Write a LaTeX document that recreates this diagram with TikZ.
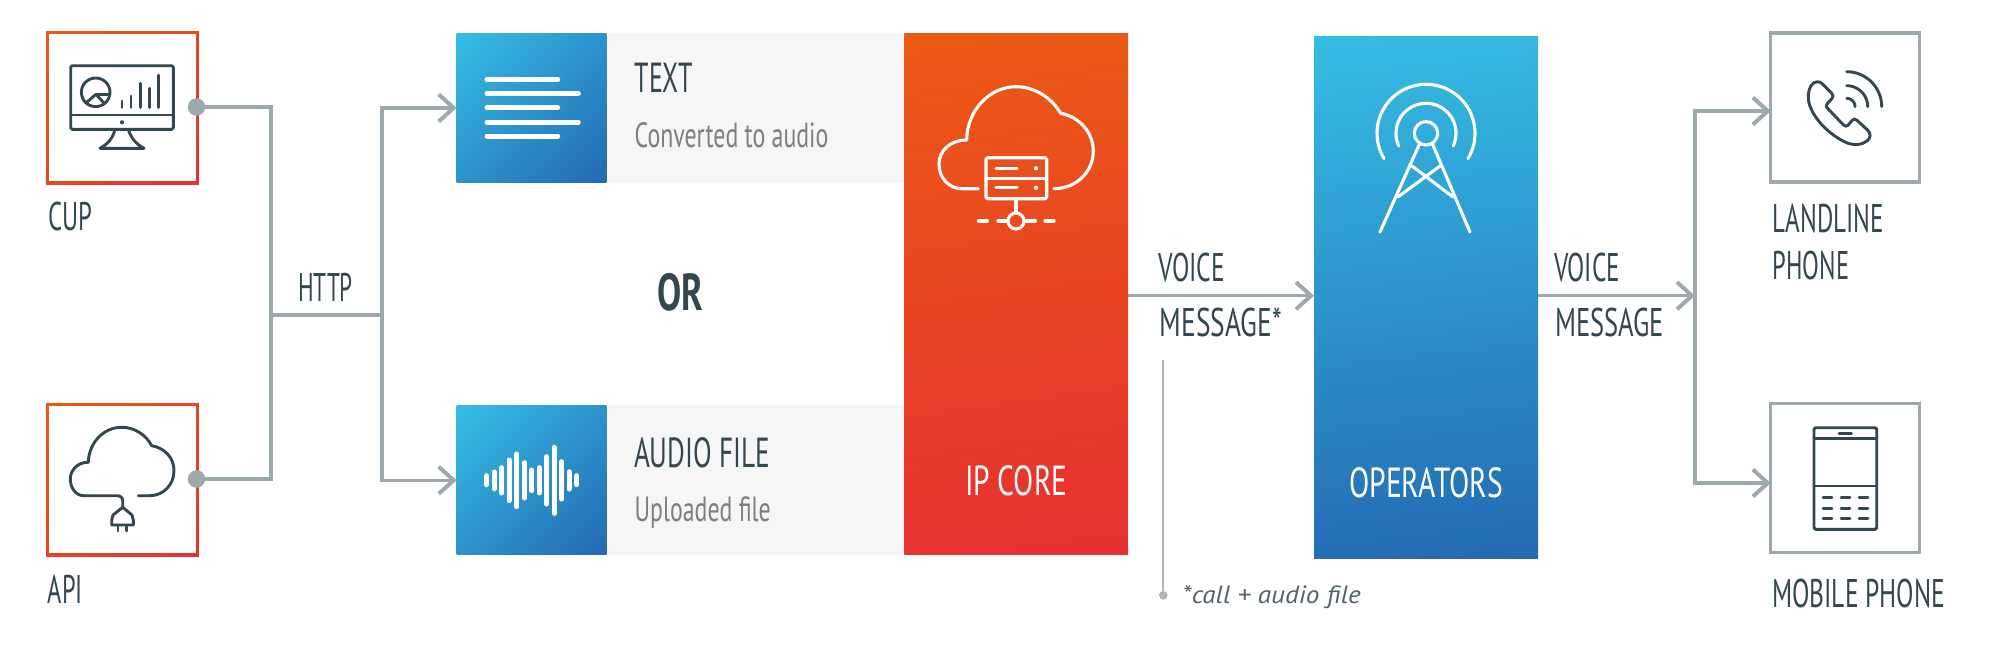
\documentclass[tikz,border=0pt]{standalone}
\usepackage{graphicx}
\usepackage{fontspec}
\usetikzlibrary{arrows.meta,calc}
\setmainfont{PT Sans}
\newcommand\fw[2]{\resizebox{#1pt}{\height}{#2}}
\definecolor{ink}{HTML}{34474F}
\definecolor{wire}{HTML}{9EA9AE}
\definecolor{wirelight}{HTML}{AEB6BA}
\definecolor{soft}{HTML}{7A7F82}
\definecolor{panel}{HTML}{F6F6F6}
\definecolor{bluetop}{HTML}{35BDE3}
\definecolor{bluebot}{HTML}{2469B3}
\definecolor{redtop}{HTML}{EB5A14}
\definecolor{redbot}{HTML}{E63032}
\pgfdeclareverticalshading{bluesq}{100bp}{color(0bp)=(bluebot); color(14.65bp)=(bluebot); color(85.35bp)=(bluetop); color(100bp)=(bluetop)}
\pgfdeclareverticalshading{bluetall}{100bp}{color(0bp)=(bluebot); color(22bp)=(bluebot); color(78bp)=(bluetop); color(100bp)=(bluetop)}
\pgfdeclareverticalshading{redtall}{100bp}{color(0bp)=(redbot); color(22bp)=(redbot); color(78bp)=(redtop); color(100bp)=(redtop)}
\pgfdeclareverticalshading{redsq}{100bp}{color(0bp)=(redbot); color(14.65bp)=(redbot); color(85.35bp)=(redtop); color(100bp)=(redtop)}
\tikzset{
  box/.style={inner sep=0pt,outer sep=0pt,minimum width=#1},
  bluesquare/.style={box=149.6pt,minimum height=149.5pt,shading=bluesq,shading angle=45},
  graypanel/.style={box=298.4pt,minimum height=149.5pt,fill=panel},
  redframe/.style={box=152.7pt,minimum height=153pt,shading=redsq,shading angle=45},
  whiteframe/.style={box=146.7pt,minimum height=147pt,fill=white},
  grayframe/.style={box=149pt,minimum height=149pt,draw=wire,line width=3.2pt},
  lab/.style={inner sep=0pt,outer sep=0pt,anchor=base west,text=ink,font=\fontsize{40}{40}\selectfont},
  labb/.style={lab,font=\fontsize{42}{42}\selectfont},
  subl/.style={lab,text=soft,font=\fontsize{35}{35}\selectfont},
  conn/.style={draw=wire,line width=3.4pt},
  arr/.style={conn,-{Straight Barb[length=15pt,width=27pt,line width=4pt]}},
  dotn/.style={circle,fill=wire,inner sep=0pt,minimum size=17.5pt},
  ic/.style={draw=ink,line width=2.9pt,line cap=round,line join=round},
  icw/.style={draw=white,line width=3.1pt,line cap=round,line join=round},
  x=1pt,y=-1pt
}
\begin{document}
\begin{tikzpicture}
\useasboundingbox[fill=white] (0,0) rectangle (1992,648);
% left frames
\node[redframe] (cup) at (122.4,107.5) {};
\node[whiteframe] at (122.4,107.5) {};
\node[redframe] (api) at (122.4,479.5) {};
\node[whiteframe] at (122.4,479.5) {};
% middle boxes
\node[graypanel] (textp) at (755.2,107.9) {};
\node[graypanel] (audiop) at (755.2,480.2) {};
\node[bluesquare] (textb) at (531.5,107.9) {};
\node[bluesquare] (audiob) at (531.5,480.2) {};
\node[box=223.7pt,minimum height=521.5pt,shading=redtall,shading angle=8] (ipcore) at (1016.2,294) {};
\node[box=224pt,minimum height=522.3pt,shading=bluetall,shading angle=7] (oper) at (1426,297.2) {};
\node[grayframe] (land) at (1845.3,107.5) {};
\node[grayframe] (mobile) at (1845.3,478.3) {};
% junctions
\node[dotn] (cupdot) at (196.5,107) {};
\node[dotn] (apidot) at (196.5,479) {};
\coordinate (j1) at (271,315);
\coordinate (j2) at (382,315);
\coordinate (j3) at (1695,295.7);
\coordinate (ntop) at (1163.3,360);
\node[circle,fill=wirelight,inner sep=0pt,minimum size=8.6pt] (nend) at (1163.3,595.3) {};
% connectors
\draw[conn] (cupdot.center) -| (j1);
\draw[conn] (apidot.center) -| (j1);
\draw[conn] (j1) -- (j2);
\draw[arr] (j2) |- (textb.west);
\draw[arr] (j2) |- (audiob.west);
\draw[arr] (ipcore.east |- j3) -- (oper.west |- j3);
\draw[arr] (oper.east |- j3) -- (j3);
\draw[arr] (j3) |- ($(land.west)+(0,3.5)$);
\draw[arr] (j3) |- ($(mobile.west)+(0,4.7)$);
\draw[draw=wirelight,line width=2.3pt] (ntop) -- (nend);
% labels
\node[lab] (lcup) at (48,230) {\fw{44}{CUP}};
\node[lab] (lapi) at (48,603) {\fw{35}{API}};
\node[lab] (lhttp) at (298,301) {\fw{55}{HTTP}};
\node[labb] (ltext) at (634.7,92.7) {\fw{57.7}{TEXT}};
\node[subl] (lconv) at (634.7,147.7) {\fw{193.7}{Converted to audio}};
\node[lab,font=\fontsize{52}{52}\bfseries\selectfont] (lor) at (657.3,310.7) {\fw{46}{OR}};
\node[labb] (laudio) at (634,467.3) {\fw{136}{AUDIO FILE}};
\node[subl] (lup) at (634.7,521.7) {\fw{136}{Uploaded file}};
\node[labb,text=white] (lip) at (965,495) {\fw{102.3}{IP CORE}};
\node[labb,text=white] (lop) at (1349.3,497.7) {\fw{153.4}{OPERATORS}};
\node[lab] (lv1) at (1158.3,281.7) {\fw{66.7}{VOICE}};
\node[lab] (lm1) at (1159.7,336.7) {\fw{122}{MESSAGE*}};
\node[lab] (lv2) at (1554,281.7) {\fw{66}{VOICE}};
\node[lab] (lm2) at (1555,336.7) {\fw{109}{MESSAGE}};
\node[lab] (ll1) at (1772.7,232.7) {\fw{111.3}{LANDLINE}};
\node[lab] (ll2) at (1772.7,279) {\fw{76.6}{PHONE}};
\node[lab] (lmob) at (1772,607.3) {\fw{173}{MOBILE PHONE}};
\node[lab,text=ink!85!white,font=\fontsize{25}{25}\itshape\selectfont] (lnote) at (1182.7,603.3) {\fw{178}{*call + audio file}};
% monitor icon
\draw[ic,rounded corners=1.5pt] (70.7,65.7) rectangle (173.3,129.3);
\draw[ic] (70.7,115) -- (173.3,115);
\fill[ink] (122,122.3) circle[radius=2.1];
\draw[ic] (115,129.3) .. controls (113,138) and (108,144) .. (100,148.3) -- (144,148.3) .. controls (136,144) and (131,138) .. (128.3,129.3);
\draw[ic] (95.7,92.3) circle[radius=14.3];
\draw[ic,line cap=butt] (87,102) -- (96,94.3) -- (104,103);
\draw[ic,line cap=butt] (96,94.3) -- (110,94.3);
\foreach \bx/\by in {122/101,131/96,140.3/83.3,149.3/88.3,158.3/75}
  \draw[ic] (\bx,\by) -- (\bx,107.5);
% api cloud icon
\draw[ic] (122.7,507) -- (122.7,501) .. controls (122.7,497) and (120,495.7) .. (116.7,495.7) -- (84,495.7) .. controls (75,495.7) and (70.3,487) .. (70.3,479) .. controls (70.3,470) and (78,462) .. (88.3,462.3) .. controls (89,442) and (104,427.3) .. (121.7,427.3) .. controls (135,427.3) and (146,435) .. (151.7,445.7) .. controls (165,448) and (174,458) .. (174,470.7) .. controls (174,485) and (163,495.7) .. (150,495.7) -- (138.3,495.7);
\draw[ic] (122.7,507.3) -- (113,515) .. controls (111.7,517) and (111.7,518) .. (111.7,520) -- (111.7,525) -- (133.3,525) -- (133.3,520) .. controls (133.3,518) and (133.3,517) .. (132,515) -- cycle;
\draw[ic] (118,525) -- (118,531) (126.7,525) -- (126.7,531);
% text lines icon
\foreach \ly/\lx in {79.3/557.7,93.3/578.3,107.7/557.7,122/578.3,136/557.7}
  \draw[draw=white,line width=5pt,line cap=round] (487,\ly) -- (\lx,\ly);
% audio wave icon
\foreach \wx/\wt/\wb in {140/447/490,162/436/502,185/423/515,207/400/538,230/382/556,253/408/530,275/430/508,298/423/515,320/390/548,342/362/576,365/405/533,387/435/503,409/447/490}
  \draw[draw=white,line width=5pt,line cap=round] ({440+\wx/3},{324+(\wt+8)/3}) -- ({440+\wx/3},{324+(\wb-8)/3});
% ip core cloud icon
\draw[icw] (978.3,188.7) -- (962,188.7) .. controls (949,188.7) and (939,178) .. (939,164) .. controls (939,151) and (950,140) .. (966.7,140) .. controls (967,110) and (990,86.7) .. (1016,86.7) .. controls (1034,86.7) and (1051,97) .. (1060.7,113.3) .. controls (1080,117) and (1093.3,133) .. (1093.3,151) .. controls (1093.3,172) and (1076,188.7) .. (1054,188.7);
\draw[icw,rounded corners=1.5pt] (986,157.7) rectangle (1046.7,198.7);
\draw[icw] (986,178.3) -- (1046.7,178.3);
\draw[icw] (996,168.3) -- (1017,168.3) (996,187.7) -- (1017,187.7);
\fill[white] (1036,168.3) circle[radius=2.2] (1036,187.7) circle[radius=2.2];
\draw[icw] (1016,198.7) -- (1016,213);
\draw[icw] (1016,221) circle[radius=8];
\draw[icw] (978.5,221) -- (987.5,221) (998,221) -- (1007,221) (1026,221) -- (1035.5,221) (1045,221) -- (1054,221);
% tower icon
\draw[icw] (1426,133.3) circle[radius=11.7];
\draw[icw] plot[domain=-25:205,samples=50,variable=\a] ({1426+30*cos(\a)},{133.3-30*sin(\a)});
\draw[icw] plot[domain=-31:211,samples=60,variable=\a] ({1426+49*cos(\a)},{133.3-49*sin(\a)});
\draw[icw] (1419.5,144) -- (1380,232) (1432.5,144) -- (1470,232);
\draw[icw] (1412,166) -- (1453,197) (1440,166) -- (1398,197);
% phone icon
\draw[ic] (1817.3,81.7) .. controls (1820,81.7) and (1821,82.5) .. (1823,84.5) -- (1831.5,93) .. controls (1833.5,95) and (1833.5,97) .. (1832,98.5) -- (1827,104) .. controls (1826,105.5) and (1826,106.7) .. (1827,107.7) -- (1843,124.5) .. controls (1845,126.7) and (1846.5,126.7) .. (1848,125.3) -- (1852,120.5) .. controls (1853.5,118.5) and (1855,118.5) .. (1857,120.3) -- (1867.5,130) .. controls (1871,133.5) and (1871,138) .. (1867,141) .. controls (1862,145) and (1853,146) .. (1845,142) .. controls (1826,133) and (1807,112) .. (1808.3,95) .. controls (1808.8,88) and (1812,81.7) .. (1817.3,81.7);
\foreach \pr in {8.3,21,35}
  \draw[ic] plot[domain=0:90,samples=20,variable=\a] ({1846.7+\pr*cos(\a)},{106.7-\pr*sin(\a)});
% mobile icon
\draw[ic,rounded corners=1.5pt] (1814,427.7) rectangle (1876.7,529.3);
\draw[ic] (1814,438.3) -- (1876.7,438.3) (1814,486) -- (1876.7,486);
\draw[ic] (1839,433.3) -- (1851.5,433.3);
\foreach \kx in {1823,1841,1859}
  \foreach \ky in {497.7,508.3,518.3}
    \draw[ic] (\kx,\ky) -- ({\kx+9},\ky);
\end{tikzpicture}
\end{document}
